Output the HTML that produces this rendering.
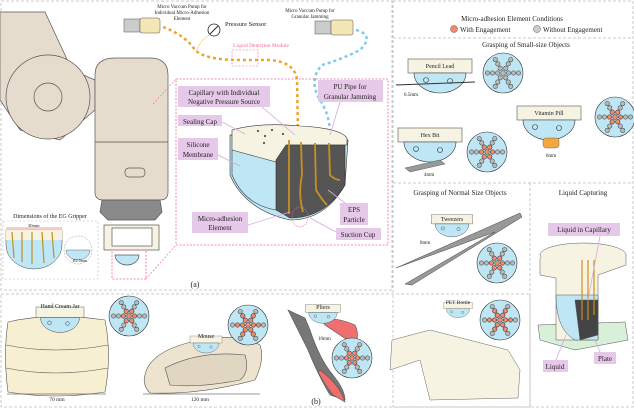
<!DOCTYPE html>
<html><head><meta charset="utf-8"><style>
html,body{margin:0;padding:0;background:#fff}
svg{display:block}
text{font-family:"Liberation Serif",serif;fill:#222}
.lb{fill:#e6c8e8}
</style></head><body>
<svg width="634" height="409" viewBox="0 0 634 409" xmlns="http://www.w3.org/2000/svg">
<defs>
<g id="disk">
<circle r="20" fill="#bfe6f5" stroke="#333" stroke-width="0.6"/>
<g fill="#b9b9b9" stroke="#333" stroke-width="0.5">
<circle r="2.3"/>
<g id="arm"><circle cx="5.5" r="2.2"/><circle cx="10.5" r="2.2"/><circle cx="15.5" r="2.2"/></g>
<use href="#arm" transform="rotate(60)"/><use href="#arm" transform="rotate(120)"/>
<use href="#arm" transform="rotate(180)"/><use href="#arm" transform="rotate(240)"/><use href="#arm" transform="rotate(300)"/>
</g></g>
<g id="diskE">
<use href="#disk"/>
<g fill="#f08a6a" stroke="#333" stroke-width="0.5">
<circle r="2.3"/><circle cx="5.5" r="2.2"/><circle cx="-5.5" r="2.2"/><circle cx="2.75" cy="4.8" r="2.2"/><circle cx="-2.75" cy="4.8" r="2.2"/><circle cx="2.75" cy="-4.8" r="2.2"/><circle cx="-2.75" cy="-4.8" r="2.2"/>
</g></g>
<g id="diskE2">
<use href="#diskE"/>
<g fill="#f08a6a" stroke="#333" stroke-width="0.5">
<circle cx="10.5" r="2.2"/><circle cx="-10.5" r="2.2"/><circle cx="5.25" cy="9.1" r="2.2"/><circle cx="-5.25" cy="9.1" r="2.2"/><circle cx="5.25" cy="-9.1" r="2.2"/><circle cx="-5.25" cy="-9.1" r="2.2"/>
</g></g>
<g id="cap">
<rect x="-32" y="-8" width="64" height="14" fill="#f7f3e3" stroke="#555" stroke-width="0.6"/>
<path d="M-26 6 A26 20 0 0 0 26 6 Z" fill="#bfe6f5" stroke="#333" stroke-width="0.6"/>
<circle cx="-14" cy="13" r="2.5" fill="none" stroke="#333" stroke-width="0.6"/><circle cx="10" cy="14" r="2.5" fill="none" stroke="#333" stroke-width="0.6"/>
</g>
</defs>

<!-- panel borders -->
<g fill="none" stroke="#bbb" stroke-width="0.8" stroke-dasharray="3,2">
<rect x="1" y="1" width="391" height="289"/>
<rect x="1" y="294" width="529" height="113"/>
<rect x="393" y="1" width="240" height="406"/>
<line x1="393" y1="38" x2="633" y2="38"/>
<line x1="393" y1="183" x2="633" y2="183"/>
<line x1="530" y1="183" x2="530" y2="407"/>
</g>

<!-- robot arm -->
<g stroke="#555" stroke-width="0.7" fill="#e6dccd">
<path d="M0 12 L45 12 L72 70 L95 80 L95 110 L60 140 L20 130 L0 100 Z"/>
<circle cx="48" cy="97" r="42"/>
<circle cx="48" cy="97" r="14" fill="none"/>
<path d="M95 75 Q95 58 115 58 L150 58 Q168 58 168 75 L168 192 Q168 200 160 200 L103 200 Q95 200 95 192 Z"/>
<line x1="95" y1="142" x2="168" y2="142"/>
<rect x="125" y="168" width="20" height="9" rx="4" fill="none"/>
<path d="M102 200 L160 200 L162 212 L155 220 L108 220 L100 212 Z" fill="#8a8a8a"/>
<rect x="104" y="225" width="55" height="25" fill="#f7f3e3"/>
<rect x="112" y="228" width="40" height="18" fill="#fff"/>
<path d="M115 255 A12 10 0 0 0 139 255 Z" fill="#bfe6f5"/>
</g>
<rect x="112" y="250" width="34" height="29" fill="none" stroke="#f06a90" stroke-width="0.8" stroke-dasharray="2,1.5"/>

<!-- dims inset -->
<rect x="3" y="221" width="95" height="58" fill="none" stroke="#bbb" stroke-width="0.6" stroke-dasharray="2,2"/>
<text x="50" y="218" font-size="6" text-anchor="middle">Dimensions of the EG Gripper</text>
<path d="M6 230 L62 230 L62 245 A28 24 0 0 1 6 245 Z" fill="#bfe6f5" stroke="#444" stroke-width="0.5"/>
<rect x="6" y="230" width="56" height="10" fill="#f7f3e3"/>
<g stroke="#c09020" stroke-width="1.2" fill="none"><path d="M12 232 L14 258"/><path d="M22 232 L22 262"/><path d="M32 232 L32 264"/><path d="M42 232 L44 263"/><path d="M52 232 L54 258"/></g>
<line x1="6" y1="228" x2="62" y2="228" stroke="#d33" stroke-width="0.6"/>
<text x="28" y="227" font-size="4.5" fill="#d33">30mm</text>
<circle cx="78" cy="250" r="14" fill="#fff" stroke="#999" stroke-width="0.5" stroke-dasharray="2,1"/>
<path d="M66 250 A12 10 0 0 0 90 250 Z" fill="#bfe6f5" stroke="#444" stroke-width="0.4"/>
<text x="73" y="262" font-size="4" fill="#333">R2.5mm</text>

<!-- pipes -->
<path d="M163 27 Q185 35 195 50 Q205 60 240 60 L270 60 Q295 62 297 80 L298 135" fill="none" stroke="#f0a22a" stroke-width="2.5" stroke-dasharray="3,3"/>
<path d="M356 30 Q375 35 360 50 Q340 60 322 65 Q308 80 320 100 Q330 115 330 135" fill="none" stroke="#7ccbec" stroke-width="2.5" stroke-dasharray="3,3"/>
<path d="M197 50 Q200 40 210 35" fill="none" stroke="#f0a22a" stroke-width="0.6" stroke-dasharray="1.5,1"/>

<!-- pumps -->
<g stroke="#555" stroke-width="0.5">
<rect x="124" y="19" width="16" height="13" fill="#ccc"/><rect x="140" y="18" width="20" height="15" rx="2" fill="#f3e7b5"/>
<rect x="315" y="21" width="16" height="13" fill="#ccc"/><rect x="331" y="20" width="22" height="15" rx="2" fill="#f3e7b5"/>
</g>
<text x="182" y="8" font-size="5" text-anchor="middle">Micro Vaccum Pump for</text>
<text x="182" y="14" font-size="5" text-anchor="middle">Individual Micro-Adhesion</text>
<text x="182" y="20" font-size="5" text-anchor="middle">Element</text>
<circle cx="214" cy="30" r="6" fill="#fff" stroke="#222" stroke-width="0.8"/><line x1="210" y1="34" x2="218" y2="26" stroke="#222" stroke-width="0.9"/>
<text x="225" y="26" font-size="6.5">Pressure Sensor</text>
<text x="310" y="12" font-size="5" text-anchor="middle">Micro Vaccum Pump for</text>
<text x="310" y="18" font-size="5" text-anchor="middle">Granular Jamming</text>
<text x="261" y="47" font-size="5.5" text-anchor="middle" fill="#f06a90" style="fill:#f06a90">Liquid Detection Module</text>
<rect x="232" y="50" width="26" height="16" fill="none" stroke="#f06a90" stroke-width="0.6" stroke-dasharray="2,1.5"/>

<!-- magnified box -->
<rect x="176" y="79" width="212" height="166" fill="none" stroke="#f06a90" stroke-width="0.8" stroke-dasharray="2,1.5"/>
<line x1="146" y1="279" x2="176" y2="245" stroke="#f06a90" stroke-width="0.6" stroke-dasharray="2,1.5"/>
<line x1="153" y1="104" x2="176" y2="79" stroke="#f06a90" stroke-width="0.6" stroke-dasharray="2,1.5"/>
<!-- hemisphere -->
<g stroke="#333" stroke-width="0.6">
<path d="M230 135 L230 175 Q245 210 290 220 Q325 220 345 185 L348 140 Z" fill="#bfe6f5"/>
<path d="M232 130 Q260 122 300 126 Q340 128 347 138 L347 145 L286 145 L285 170 L232 150 Z" fill="#f7f3e3"/>
<path d="M276 160 L286 145 L345 145 L345 185 Q325 218 290 218 L276 210 Z" fill="#555"/>
<path d="M232 150 L276 162 L276 210 Q245 205 232 175 Z" fill="#bfe6f5"/>
</g>
<g fill="#333"><circle cx="258" cy="131" r="1"/><circle cx="265" cy="136" r="1"/><circle cx="272" cy="130" r="1"/><circle cx="283" cy="134" r="1"/><circle cx="264" cy="143" r="1"/></g>
<g stroke="#c8901e" stroke-width="1.8" fill="none"><path d="M289 140 L289 214"/><path d="M301 142 L302 175 Q298 195 303 212"/><path d="M315 143 L316 190 Q322 200 327 205"/><path d="M329 143 L330 175 Q335 180 340 180"/></g>
<ellipse cx="300" cy="217" rx="8" ry="10" fill="none" stroke="#f06a90" stroke-width="0.6" stroke-dasharray="1.5,1"/>
<!-- labels -->
<g class="lb">
<rect x="178" y="86" width="92" height="21"/><rect x="318" y="80" width="65" height="22"/>
<rect x="178" y="115" width="44" height="11"/><rect x="178" y="138" width="40" height="22"/>
<rect x="192" y="212" width="56" height="21"/><rect x="340" y="203" width="28" height="22"/><rect x="336" y="228" width="45" height="12"/>
</g>
<text x="224" y="95" font-size="7" text-anchor="middle">Capillary with Individual</text>
<text x="224" y="104" font-size="7" text-anchor="middle">Negative Pressure Source</text>
<text x="350" y="89" font-size="7" text-anchor="middle">PU Pipe for</text>
<text x="350" y="99" font-size="7" text-anchor="middle">Granular Jamming</text>
<text x="200" y="124" font-size="7" text-anchor="middle">Sealing Cap</text>
<text x="198" y="147" font-size="7" text-anchor="middle">Silicone</text>
<text x="198" y="157" font-size="7" text-anchor="middle">Membrane</text>
<text x="220" y="221" font-size="7" text-anchor="middle">Micro-adhesion</text>
<text x="220" y="230" font-size="7" text-anchor="middle">Element</text>
<text x="354" y="212" font-size="7" text-anchor="middle">EPS</text>
<text x="354" y="222" font-size="7" text-anchor="middle">Particle</text>
<text x="358" y="237" font-size="7" text-anchor="middle">Suction Cup</text>
<g stroke="#d9a8dc" stroke-width="0.8"><line x1="262" y1="107" x2="295" y2="135"/><line x1="340" y1="102" x2="330" y2="135"/><line x1="222" y1="122" x2="245" y2="134"/><line x1="218" y1="155" x2="240" y2="166"/><line x1="248" y1="225" x2="290" y2="212"/><line x1="345" y1="203" x2="328" y2="190"/><line x1="336" y1="232" x2="310" y2="218"/></g>
<text x="195" y="287" font-size="8" text-anchor="middle">(a)</text>

<!-- panel b -->
<g stroke="#555" stroke-width="0.6">
<path d="M8 322 Q50 312 105 320 Q112 355 105 392 Q55 400 8 392 Q3 355 8 322 Z" fill="#f7efd2"/>
<path d="M6 345 Q55 355 108 345 M6 368 Q55 378 108 368" fill="none"/>
<path d="M145 375 Q150 350 200 340 Q240 333 260 345 Q265 360 255 380 Q200 395 150 393 Q142 385 145 375 Z" fill="#ede3cf"/>
<path d="M165 368 Q200 350 245 355 Q250 372 240 380 Q200 388 170 385 Z" fill="#e0d6c2"/>
<path d="M288 310 L305 318 L310 330 Q320 360 333 375 Q345 390 345 400 L330 395 Q318 375 308 350 Z" fill="#777"/>
<path d="M320 318 Q340 318 355 325 Q360 335 355 345 Q340 335 325 325 Z" fill="#ef6f6f"/>
<path d="M320 370 Q340 385 345 402 L333 395 Q325 385 318 372 Z" fill="#ef6f6f"/>
</g>
<g transform="translate(60,313) scale(0.75)"><use href="#cap"/></g>
<text x="60" y="308" font-size="6" text-anchor="middle">Hand Cream Jar</text>
<use href="#diskE" x="129" y="316"/>
<g transform="translate(206,340) scale(0.5)"><use href="#cap"/></g>
<text x="206" y="338" font-size="6" text-anchor="middle">Mouse</text>
<use href="#diskE2" x="248" y="325"/>
<g transform="translate(323,309) scale(0.55)"><use href="#cap"/></g>
<text x="323" y="309" font-size="6" text-anchor="middle">Pliers</text>
<use href="#diskE" x="352" y="358"/>
<text x="318" y="340" font-size="5">10mm</text>
<g stroke="#333" stroke-width="0.5"><line x1="7" y1="394" x2="106" y2="394"/><line x1="143" y1="394" x2="260" y2="394"/></g>
<text x="57" y="401" font-size="5.5" text-anchor="middle">70 mm</text>
<text x="200" y="401" font-size="5.5" text-anchor="middle">120 mm</text>
<text x="316" y="404" font-size="8" text-anchor="middle">(b)</text>

<!-- right panel -->
<text x="512" y="21" font-size="7" text-anchor="middle">Micro-adhesion Element Conditions</text>
<circle cx="454" cy="29" r="3.5" fill="#f08a6a" stroke="#333" stroke-width="0.4"/>
<text x="460" y="32" font-size="7">With Engagement</text>
<circle cx="537" cy="29" r="3.5" fill="#ccc" stroke="#333" stroke-width="0.4"/>
<text x="543" y="32" font-size="7">Without Engagement</text>
<text x="526" y="47" font-size="7" text-anchor="middle">Grasping of Small-size Objects</text>
<g transform="translate(440,67) scale(1)"><use href="#cap"/></g><text x="440" y="68" font-size="6" text-anchor="middle">Pencil Lead</text>
<line x1="396" y1="85" x2="475" y2="82" stroke="#333" stroke-width="1"/>
<text x="404" y="96" font-size="5">0.5mm</text>
<use href="#disk" x="503" y="73"/>
<g transform="translate(549,114)"><use href="#cap"/></g><text x="549" y="115" font-size="6" text-anchor="middle">Vitamin Pill</text>
<rect x="543" y="138" width="16" height="10" rx="3" fill="#f4a640" stroke="#555" stroke-width="0.4"/>
<text x="551" y="157" font-size="5" text-anchor="middle">6mm</text>
<use href="#diskE" x="615" y="117"/>
<g transform="translate(430,136)"><use href="#cap"/></g><text x="430" y="137" font-size="6" text-anchor="middle">Hex Bit</text>
<path d="M405 168 L440 160 L445 164 L410 172 Z" fill="#999" stroke="#444" stroke-width="0.4"/>
<text x="424" y="176" font-size="5">4mm</text>
<use href="#diskE" x="487" y="152"/>
<text x="460" y="195" font-size="7" text-anchor="middle">Grasping of Normal Size Objects</text>
<text x="583" y="195" font-size="7" text-anchor="middle">Liquid Capturing</text>
<g transform="translate(452,220) scale(0.65)"><use href="#cap"/></g><text x="452" y="221" font-size="6" text-anchor="middle">Tweezers</text>
<path d="M396 268 L520 213 L522 217 L412 285 L405 284 L495 232 Z" fill="#999" stroke="#444" stroke-width="0.5"/>
<text x="420" y="244" font-size="5">8mm</text>
<text x="488" y="260" font-size="5" transform="rotate(-30 488 260)">112 mm</text>
<use href="#diskE" x="497" y="263"/>
<use href="#diskE2" x="500" y="320"/>
<g transform="translate(458,306) scale(0.45)"><use href="#cap"/></g><text x="458" y="304" font-size="5.5" text-anchor="middle">PET Bottle</text>
<path d="M392 340 L430 330 L508 350 L520 370 L518 398 L430 400 L420 360 L390 370 Z" fill="#f7f3e3" stroke="#666" stroke-width="0.5"/>
<!-- liquid capture -->
<g stroke="#555" stroke-width="0.5">
<path d="M538 325 L625 322 L628 340 L575 350 L540 340 Z" fill="#d8efd8"/>
<ellipse cx="583" cy="255" rx="43" ry="12" fill="#f7f3e3"/>
<path d="M540 258 L540 275 L556 278 L556 340 L598 340 L598 275 L626 265 L626 255" fill="#f7f3e3"/>
<path d="M556 295 Q556 330 575 340 L598 340 L598 295 Z" fill="#bfe6f5"/>
<path d="M575 300 L598 300 L598 335 L580 340 Z" fill="#444"/>
</g>
<g stroke="#c8901e" stroke-width="1.2"><line x1="582" y1="260" x2="582" y2="320"/><line x1="588" y1="260" x2="588" y2="320"/><line x1="594" y1="260" x2="594" y2="315"/></g>
<rect x="548" y="223" width="72" height="13" class="lb"/><text x="584" y="232" font-size="7" text-anchor="middle">Liquid in Capillary</text>
<rect x="543" y="360" width="25" height="12" class="lb"/><text x="555" y="369" font-size="7" text-anchor="middle">Liquid</text>
<rect x="594" y="352" width="22" height="12" class="lb"/><text x="605" y="361" font-size="7" text-anchor="middle">Plate</text>
<g stroke="#d9a8dc" stroke-width="0.8"><line x1="600" y1="236" x2="588" y2="300"/><line x1="556" y1="360" x2="566" y2="335"/><line x1="600" y1="352" x2="595" y2="340"/></g>
</svg>
</body></html>
